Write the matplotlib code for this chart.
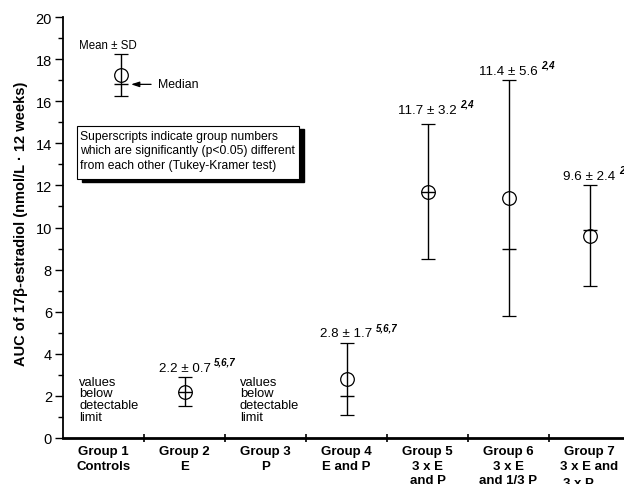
import numpy as np
import matplotlib
matplotlib.use('Agg')
import matplotlib.pyplot as plt
from matplotlib.patches import Rectangle
from matplotlib.transforms import offset_copy

plt.rcParams['font.family'] = ['Liberation Sans', 'DejaVu Sans']
plt.rcParams['mathtext.fontset'] = 'custom'
plt.rcParams['mathtext.rm'] = 'Liberation Sans'
plt.rcParams['mathtext.bf'] = 'Liberation Sans:bold'

# groups with measurable values (group 1 and 3 below detection limit)
group_labels = ['Group 1\nControls', 'Group 2\nE', 'Group 3\nP', 'Group 4\nE and P',
                'Group 5\n3 x E\nand P', 'Group 6\n3 x E\nand 1/3 P',
                'Group 7\n3 x E and\n3 x P$_{\\mathbf{sequ}}$']
data_groups = [2, 4, 5, 6, 7]
means = [2.2, 2.8, 11.7, 11.4, 9.6]
sds = [0.7, 1.7, 3.2, 5.6, 2.4]
medians = [2.2, 2.0, 11.7, 9.0, 9.9]
signif = ['5,6,7', '5,6,7', '2,4', '2,4', '2,4']

# symbol key drawn in group 1 column
key_mean = 17.25
key_sd = 1.0
key_median = 16.8

fig = plt.figure(figsize=(6.24, 4.85), dpi=100)
ax = fig.add_axes([63/624, 46/485, 567/624, 421/485])

xpos = np.array(data_groups) - 0.5
ax.errorbar(xpos, means, yerr=sds, fmt='o', ms=9.8, mfc='none', mec='black', mew=0.9,
            ecolor='black', elinewidth=1.0, capsize=4.7, capthick=1.0)
ax.plot(xpos, medians, linestyle='none', marker='_', ms=9.4, mew=1.0, color='black')

# value labels with superscripts
pads = [4.5, 5, 8.5, 4.5, 4.5]
for x, m, s, sup, p in zip(xpos, means, sds, signif, pads):
    t = ax.annotate('%.1f \u00b1 %.1f' % (m, s), xy=(x, m + s), xytext=(0, p),
                    textcoords='offset points', ha='center', va='baseline', fontsize=9.6)
    ax.annotate(sup, xy=(1, 0.6), xycoords=t, xytext=(2.5, 0), textcoords='offset points',
                ha='left', va='bottom', fontsize=7, fontweight='bold', fontstyle='italic',
                annotation_clip=False)

# key symbol
kx = 0.716
ax.errorbar([kx], [key_mean], yerr=[key_sd], fmt='o', ms=9.8, mfc='none', mec='black',
            mew=0.9, ecolor='black', elinewidth=1.0, capsize=4.7, capthick=1.0)
ax.plot([kx], [key_median], marker='_', ms=9.4, mew=1.0, color='black')
ax.text(0.556, 18.53, 'Mean \u00b1 SD', ha='center', va='baseline', fontsize=8.3)
ax.annotate('Median', xy=(0.84, key_median), xytext=(1.173, key_median),
            ha='left', va='center', fontsize=8.8,
            arrowprops=dict(arrowstyle='-|>,head_length=0.55,head_width=0.18',
                            color='black', lw=0.9, shrinkA=3, shrinkB=0))

# note box with drop shadow
bx0, bx1, by0, by1 = 0.173, 2.914, 12.3, 14.82
shadow_tr = offset_copy(ax.transData, fig=fig, x=3.3, y=-2.4, units='points')
ax.add_patch(Rectangle((bx0, by0), bx1 - bx0, by1 - by0, transform=shadow_tr,
                       facecolor='black', edgecolor='black', zorder=3))
ax.add_patch(Rectangle((bx0, by0), bx1 - bx0, by1 - by0, facecolor='white',
                       edgecolor='black', lw=0.8, zorder=4))
ax.text(0.205, 14.62, 'Superscripts indicate group numbers\n'
        'which are significantly (p<0.05) different\n'
        'from each other (Tukey-Kramer test)',
        ha='left', va='top', fontsize=8.7, linespacing=1.25, zorder=5)

for gx in [0.2, 2.185]:
    ax.text(gx, 2.95, 'values\nbelow\ndetectable\nlimit', ha='left', va='top',
            fontsize=9.3, linespacing=0.95)

ax.set_xlim(0, 7)
ax.set_ylim(0, 20)
ax.set_yticks(np.arange(0, 21, 2))
ax.set_yticks(np.arange(1, 20, 2), minor=True)
ax.set_xticks(np.arange(1, 7))
ax.set_xticklabels([])
ax.set_xticks(np.arange(7) + 0.5, minor=True)
ax.set_xticklabels(group_labels, minor=True, fontweight='bold', fontsize=9.5,
                   linespacing=1.3, va='top')

ax.tick_params(axis='y', which='major', length=6, width=1.0, labelsize=10.5, pad=2)
ax.tick_params(axis='y', which='minor', length=3.5, width=1.0)
ax.tick_params(axis='x', which='major', direction='inout', length=6, width=1.2)
ax.tick_params(axis='x', which='minor', length=0, pad=5)

ax.spines['top'].set_visible(False)
ax.spines['right'].set_visible(False)
ax.spines['left'].set_linewidth(1.3)
ax.spines['bottom'].set_linewidth(2.0)

ax.set_ylabel('AUC of 17\u03b2-estradiol (nmol/L \u00b7 12 weeks)', fontweight='bold',
              fontsize=10.5)
ax.yaxis.set_label_coords(-0.061, 0.51)

fig.savefig('out.png', dpi=100)
